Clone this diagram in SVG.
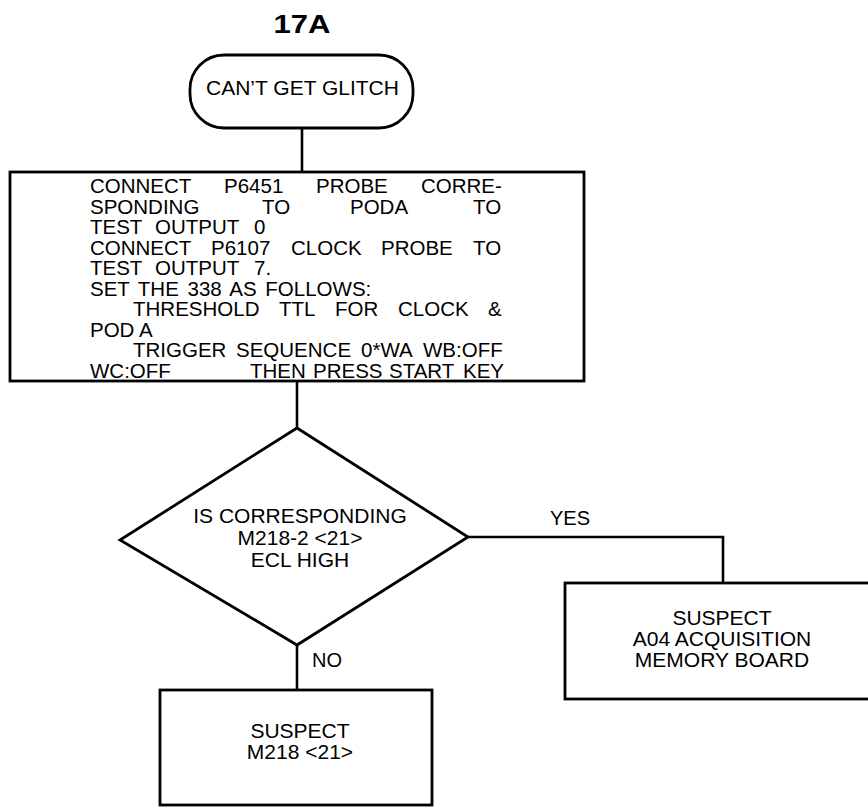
<svg xmlns="http://www.w3.org/2000/svg" width="868" height="808" viewBox="0 0 868 808">
<style>
.s{fill:none;stroke:#000;stroke-width:2.8}
.c{fill:none;stroke:#000;stroke-width:2.6}
.t{font-family:"Liberation Sans",Arial,sans-serif;font-size:20.5px;fill:#000}
.m{text-anchor:middle}
</style>
<rect width="868" height="808" fill="#fff"/>
<text x="302" y="33" class="t m" style="font-size:26px;font-weight:bold" textLength="57" lengthAdjust="spacingAndGlyphs">17A</text>
<g id="connectors">
<line class="c" x1="302" y1="128" x2="302" y2="172"/>
<line class="c" x1="297" y1="381" x2="297" y2="428"/>
<polyline class="c" points="468,537 723,537 723,583"/>
<line class="c" x1="297" y1="645" x2="297" y2="690"/>
<text x="550" y="525" class="t" style="font-size:20px">YES</text>
<text x="312" y="667" class="t" style="font-size:20px">NO</text>
</g>
<g id="start">
<rect class="s" x="190" y="55" width="223" height="73" rx="34" ry="34"/>
<text x="302.5" y="95" class="t m" style="font-size:21px">CAN’T GET GLITCH</text>
</g>
<g id="setup">
<rect class="s" x="10" y="172" width="574" height="209"/>
<text class="t"><tspan x="90" y="193">CONNECT</tspan><tspan x="224" y="193">P6451</tspan><tspan x="316" y="193">PROBE</tspan><tspan x="421" y="193">CORRE-</tspan></text>
<text class="t"><tspan x="90" y="213.5">SPONDING</tspan><tspan x="262" y="213.5">TO</tspan><tspan x="350" y="213.5">PODA</tspan><tspan x="473" y="213.5">TO</tspan></text>
<text class="t"><tspan x="90" y="234">TEST</tspan><tspan x="155" y="234">OUTPUT</tspan><tspan x="254" y="234">0</tspan></text>
<text class="t"><tspan x="90" y="254.6">CONNECT</tspan><tspan x="211" y="254.6">P6107</tspan><tspan x="291" y="254.6">CLOCK</tspan><tspan x="381" y="254.6">PROBE</tspan><tspan x="473" y="254.6">TO</tspan></text>
<text class="t"><tspan x="90" y="275.2">TEST</tspan><tspan x="155" y="275.2">OUTPUT</tspan><tspan x="254" y="275.2">7.</tspan></text>
<text class="t" x="90" y="295.7" style="word-spacing:3px">SET THE 338 AS FOLLOWS:</text>
<text class="t"><tspan x="133" y="316.3">THRESHOLD</tspan><tspan x="279" y="316.3">TTL</tspan><tspan x="335" y="316.3">FOR</tspan><tspan x="398" y="316.3">CLOCK</tspan><tspan x="488" y="316.3">&amp;</tspan></text>
<text class="t" x="90" y="336.8">POD A</text>
<text class="t"><tspan x="133" y="357.4">TRIGGER</tspan><tspan x="236" y="357.4">SEQUENCE</tspan><tspan x="361" y="357.4">0*WA</tspan><tspan x="423" y="357.4">WB:OFF</tspan></text>
<text class="t"><tspan x="90" y="378">WC:OFF</tspan><tspan x="250" y="378">THEN</tspan><tspan x="313" y="378">PRESS</tspan><tspan x="389" y="378">START</tspan><tspan x="463" y="378">KEY</tspan></text>
</g>
<g id="decision">
<polygon class="s" points="297,428 468,537 297,645 120,540"/>
<text class="t m" style="font-size:21px"><tspan x="300" y="523">IS CORRESPONDING</tspan><tspan x="300" y="545">M218-2 &lt;21&gt;</tspan><tspan x="300" y="567">ECL HIGH</tspan></text>
</g>
<g id="suspect-a04">
<rect class="s" x="565" y="583" width="320" height="116"/>
<text class="t m" style="font-size:21px"><tspan x="722" y="625">SUSPECT</tspan><tspan x="722" y="646">A04 ACQUISITION</tspan><tspan x="722" y="667">MEMORY BOARD</tspan></text>
</g>
<g id="suspect-m218">
<rect class="s" x="160" y="690" width="272" height="115"/>
<text class="t m" style="font-size:21px"><tspan x="300" y="738">SUSPECT</tspan><tspan x="300" y="759">M218 &lt;21&gt;</tspan></text>
</g>
</svg>
